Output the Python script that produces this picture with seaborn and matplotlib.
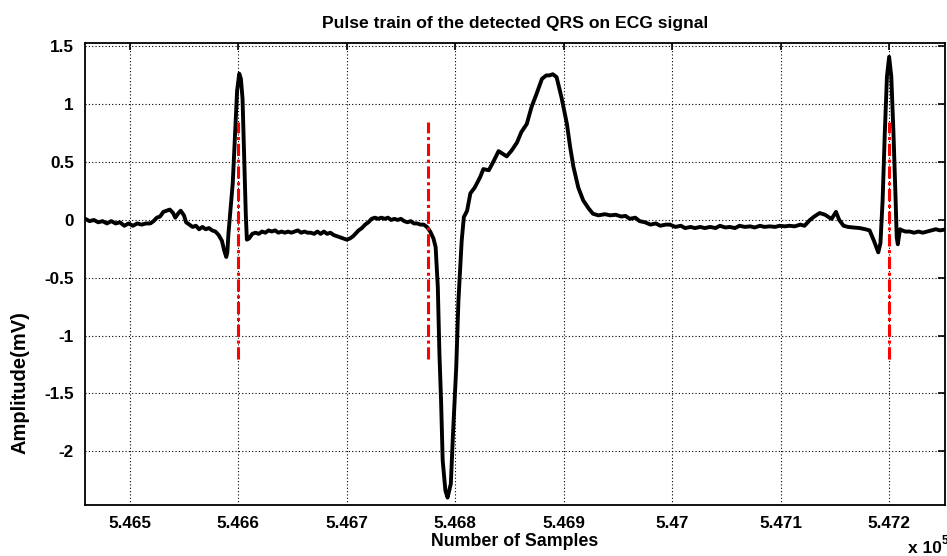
import numpy as np
import pandas as pd
import matplotlib
matplotlib.use("Agg")
import matplotlib.pyplot as plt
import seaborn as sns

# ---- data ----
samples = [
    546459, 546463, 546467, 546471, 546475, 546479, 546483, 546487, 546491, 546495,
    546499, 546503, 546507, 546511, 546515, 546519, 546522, 546525, 546528, 546531,
    546534, 546537, 546540, 546542, 546545, 546547, 546550, 546552, 546555, 546558,
    546561, 546564, 546567, 546570, 546573, 546576, 546579, 546582, 546585, 546587,
    546589, 546590, 546591, 546593, 546595, 546597, 546599, 546601, 546602.5, 546604,
    546605.5, 546607, 546608, 546610, 546613, 546616, 546619, 546622, 546625, 546628,
    546631, 546634, 546637, 546640, 546643, 546646, 546649, 546652, 546655, 546658,
    546661, 546664, 546667, 546670, 546673, 546676, 546679, 546682, 546685, 546688,
    546691, 546694, 546697, 546700, 546703, 546706, 546709, 546711, 546714, 546717,
    546720, 546723, 546726, 546729, 546732, 546735, 546738, 546741, 546744, 546747,
    546750, 546753, 546756, 546759, 546762, 546765, 546768, 546771, 546774, 546777,
    546780, 546782, 546784, 546785.5, 546787, 546788.5, 546791, 546793, 546796, 546798,
    546801, 546803, 546806, 546808, 546811, 546814, 546818, 546823, 546826, 546831,
    546835, 546840, 546847.5, 546852, 546857, 546861, 546866, 546870.5, 546875, 546880,
    546884, 546887, 546890, 546893.5, 546898, 546903, 546906, 546909, 546913.5, 546918,
    546923, 546927, 546932, 546938, 546943, 546948, 546953, 546957, 546961, 546966,
    546970, 546975, 546980, 546985, 546989, 546994, 546998, 547003, 547008, 547012,
    547017, 547021, 547026, 547030, 547035, 547040, 547044, 547049, 547053, 547058,
    547062, 547067, 547072, 547076, 547081, 547085, 547090, 547095, 547099, 547104,
    547108, 547113, 547118, 547122, 547127, 547131, 547136, 547141, 547145, 547147,
    547151, 547154, 547158, 547162, 547167, 547173, 547178, 547182, 547186, 547190,
    547192, 547194, 547196, 547198, 547200, 547202, 547204, 547206, 547207, 547208,
    547210, 547212, 547215, 547219, 547223, 547227, 547231, 547235, 547239, 547243,
    547247, 547253,
]
amplitude = [
    0.01, -0.01, 0.00, -0.02, -0.01, -0.03, -0.01, -0.03, -0.02, -0.05,
    -0.03, -0.05, -0.03, -0.04, -0.03, -0.03, -0.01, 0.02, 0.03, 0.07,
    0.08, 0.09, 0.06, 0.02, 0.06, 0.08, 0.04, -0.02, -0.04, -0.06,
    -0.05, -0.08, -0.06, -0.08, -0.07, -0.09, -0.10, -0.13, -0.18, -0.26,
    -0.32, -0.28, -0.12, 0.10, 0.32, 0.72, 1.12, 1.265, 1.22, 1.05,
    0.55, 0.05, -0.17, -0.16, -0.12, -0.11, -0.12, -0.10, -0.11, -0.09,
    -0.10, -0.09, -0.11, -0.10, -0.11, -0.10, -0.11, -0.10, -0.09, -0.11,
    -0.10, -0.11, -0.11, -0.12, -0.10, -0.12, -0.10, -0.12, -0.11, -0.13,
    -0.14, -0.15, -0.16, -0.17, -0.16, -0.14, -0.11, -0.09, -0.07, -0.04,
    -0.02, 0.01, 0.02, 0.01, 0.02, 0.01, 0.02, 0.00, 0.01, 0.00,
    0.01, -0.01, -0.02, -0.01, -0.03, -0.03, -0.04, -0.04, -0.06, -0.10,
    -0.16, -0.235, -0.58, -1.16, -1.56, -2.08, -2.34, -2.40, -2.28, -1.85,
    -1.27, -0.70, -0.18, 0.025, 0.08, 0.23, 0.28, 0.37, 0.44, 0.43,
    0.50, 0.595, 0.55, 0.60, 0.67, 0.76, 0.83, 0.98, 1.09, 1.22,
    1.25, 1.25, 1.26, 1.235, 1.06, 0.83, 0.63, 0.46, 0.28, 0.17,
    0.10, 0.054, 0.04, 0.05, 0.04, 0.045, 0.03, 0.035, 0.01, 0.02,
    -0.01, -0.02, -0.04, -0.03, -0.05, -0.04, -0.04, -0.06, -0.05, -0.07,
    -0.06, -0.07, -0.06, -0.07, -0.06, -0.07, -0.05, -0.065, -0.06, -0.07,
    -0.05, -0.06, -0.055, -0.065, -0.05, -0.06, -0.055, -0.06, -0.05, -0.055,
    -0.05, -0.055, -0.04, -0.05, 0.00, 0.03, 0.06, 0.045, 0.02, 0.01,
    0.07, 0.00, -0.05, -0.06, -0.065, -0.07, -0.08, -0.09, -0.18, -0.28,
    -0.20, 0.17, 0.75, 1.24, 1.41, 1.24, 0.75, 0.17, -0.15, -0.21,
    -0.08, -0.09, -0.10, -0.10, -0.11, -0.10, -0.11, -0.10, -0.09, -0.08,
    -0.09, -0.08,
]
pulse_positions = [546600, 546775, 547200]
pulse_low = -1.2
pulse_high = 0.85

x_ticks = [546500, 546600, 546700, 546800, 546900, 547000, 547100, 547200]
x_tick_labels = ["5.465", "5.466", "5.467", "5.468", "5.469", "5.47", "5.471", "5.472"]
y_ticks = [1.5, 1.0, 0.5, 0.0, -0.5, -1.0, -1.5, -2.0]
y_tick_labels = ["1.5", "1", "0.5", "0", "-0.5", "-1", "-1.5", "-2"]

title = "Pulse train of the detected QRS on ECG signal"
xlabel = "Number of Samples"
ylabel = "Amplitude(mV)"

# ---- style ----
sns.set_style("white")
plt.rcParams["font.family"] = ["Liberation Sans", "DejaVu Sans"]
plt.rcParams["font.weight"] = "bold"
plt.rcParams["axes.unicode_minus"] = False
plt.rcParams["text.color"] = "black"
plt.rcParams["axes.labelcolor"] = "black"
plt.rcParams["axes.titlecolor"] = "black"

fig = plt.figure(figsize=(9.47, 5.56), dpi=100)
ax = fig.add_axes([85 / 947, 51 / 556, 860 / 947, 462 / 556])

ecg = pd.DataFrame({"sample": samples, "amp": amplitude})
sns.lineplot(data=ecg, x="sample", y="amp", ax=ax, color="black",
             linewidth=2.8, sort=False, estimator=None, zorder=3)

pulses = pd.DataFrame({
    "sample": [p for p in pulse_positions for _ in range(2)],
    "amp": [v for _ in pulse_positions for v in (pulse_low, pulse_high)],
    "pulse": [i for i in range(len(pulse_positions)) for _ in range(2)],
})
for _, grp in pulses.groupby("pulse"):
    sns.lineplot(data=grp, x="sample", y="amp", ax=ax, color="red",
                 linewidth=2.2, linestyle=(0, (4, 1.2, 1, 1.2)),
                 estimator=None, sort=False, zorder=4)

ax.set_xlim(546458.8, 547251.5)
ax.set_ylim(-2.464, 1.530)
ax.set_xticks(x_ticks)
ax.set_xticklabels(x_tick_labels)
ax.set_yticks(y_ticks)
ax.set_yticklabels(y_tick_labels)

ax.grid(True, color="black", linestyle=(0, (1, 2)), linewidth=0.8)
ax.tick_params(direction="in", length=5, width=1.2, top=True, right=True,
               labelsize=12.3, pad=8, colors="black")
for lab in ax.get_xticklabels() + ax.get_yticklabels():
    lab.set_fontweight("bold")
for sp in ax.spines.values():
    sp.set_visible(True)
    sp.set_color("black")
    sp.set_linewidth(1.3)

ax.set_title(title, fontsize=12.6, fontweight="bold", pad=11, color="black")
ax.set_xlabel(xlabel, fontsize=12.8, fontweight="bold", labelpad=1, color="black")
ax.set_ylabel(ylabel, fontsize=14.5, fontweight="bold", color="black")
ax.yaxis.set_label_coords(-0.064, 0.266)

fig.text(908 / 947, 1 - 553 / 556, "x 10", fontsize=12.5, fontweight="bold",
         ha="left", va="baseline", color="black")
fig.text(942 / 947, 1 - 544 / 556, "5", fontsize=8.5, fontweight="bold",
         ha="left", va="baseline", color="black")

fig.savefig("out.png", dpi=100)
